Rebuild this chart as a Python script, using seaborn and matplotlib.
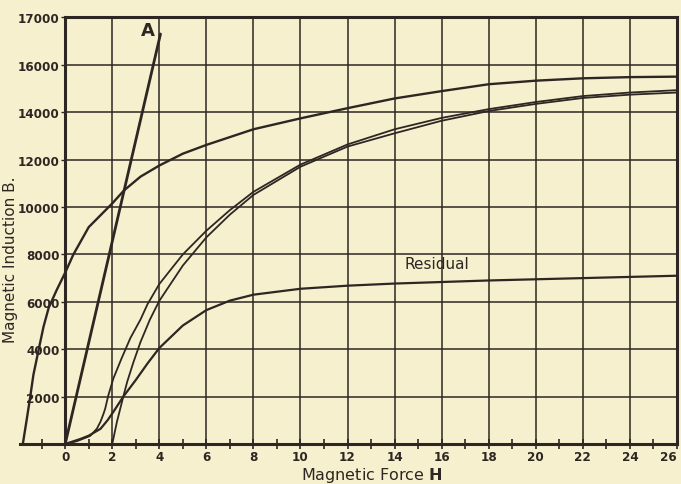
import matplotlib.pyplot as plt
import seaborn as sns

# ruled paper
h_ticks = list(range(0, 27, 2))
h_minor = list(range(-1, 26, 2))
b_ticks = list(range(0, 18001, 2000))
b_labels = ["", "2000", "4000", "6000", "8000", "10000", "12000", "14000", "16000", "17000"]

# line A
a_h = [0, 4.05]
a_b = [0, 17300]

# upper curve (starts at negative H)
up_h = [-1.8, -1.63, -1.49, -1.35, -1.14, -0.92, -0.7, -0.35, 0, 0.35, 1.0, 1.5, 2.0, 2.5,
        3.2, 4.0, 5.0, 6.0, 7.0, 8.0, 10.0, 12.0, 14.0, 16.0, 18.0, 20.0, 22.0, 24.0, 26.0]
up_b = [0, 1060, 1960, 2920, 3920, 4950, 5750, 6520, 7230, 8000, 9150, 9650, 10150, 10700,
        11280, 11750, 12250, 12620, 12950, 13280, 13740, 14170, 14580, 14890, 15180, 15330, 15430, 15480, 15500]

# double line, left branch
l_h = [0, 0.5, 1.06, 1.35, 1.5, 1.62, 1.7, 1.83, 2.05, 2.4, 2.77, 3.2, 3.5, 4.0, 5.0, 6.0,
       7.0, 8.0, 10.0, 12.0, 14.0, 16.0, 18.0, 20.0, 22.0, 24.0, 26.0]
l_b = [0, 120, 340, 650, 940, 1250, 1490, 2040, 2770, 3620, 4470, 5250, 5900, 6750, 8000, 9000,
       9870, 10640, 11790, 12640, 13280, 13760, 14130, 14430, 14680, 14830, 14930]

# double line, right branch
r_h = [2.0, 2.2, 2.47, 2.64, 2.9, 3.2, 3.6, 4.0, 5.0, 6.0, 7.0, 8.0, 10.0, 12.0, 14.0, 16.0,
       18.0, 20.0, 22.0, 24.0, 26.0]
r_b = [0, 940, 2000, 2640, 3450, 4300, 5250, 6040, 7530, 8720, 9680, 10510, 11700, 12550, 13110,
       13640, 14050, 14350, 14600, 14740, 14830]

# residual
res_h = [0, 0.64, 1.0, 1.5, 1.8, 2.05, 2.47, 3.0, 3.5, 4.0, 5.0, 6.0, 7.0, 8.0, 10.0, 12.0,
         14.0, 18.0, 22.0, 26.0]
res_b = [0, 210, 350, 640, 1000, 1360, 2000, 2700, 3400, 4050, 5000, 5650, 6050, 6300, 6550, 6680,
         6770, 6900, 7000, 7100]

paper = "#f6f0cf"
ink = "#2e2622"

sns.set_theme(style="white", rc={"axes.facecolor": paper, "figure.facecolor": paper})
plt.rcParams["font.family"] = ["DejaVu Sans"]

fig = plt.figure(figsize=(6.81, 4.85), dpi=100)
ax = fig.add_axes([20 / 681, 40 / 485, 657 / 681, 426.6 / 485])

# grid only inside the ruled frame
ax.vlines(h_ticks[1:-1], b_ticks[0], b_ticks[-1], color=ink, lw=1.1, zorder=1)
ax.hlines(b_ticks[1:-1], h_ticks[0], h_ticks[-1], color=ink, lw=1.1, zorder=1)

kw = dict(ax=ax, color=ink, sort=False, estimator=None, zorder=3)
sns.lineplot(x=a_h, y=a_b, lw=2.0, **kw)
sns.lineplot(x=up_h, y=up_b, lw=1.7, **kw)
sns.lineplot(x=l_h, y=l_b, lw=1.3, **kw)
sns.lineplot(x=r_h, y=r_b, lw=1.3, **kw)
sns.lineplot(x=res_h, y=res_b, lw=1.6, **kw)

ax.text(3.5, 17450, "A", fontsize=13, fontweight="bold", color=ink, ha="center", va="center")
ax.text(14.4, 7600, "Residual", fontsize=11, color=ink, ha="left", va="center")

ax.set_xlim(-1.92, 26)
ax.set_ylim(0, 18000)

for s in ax.spines.values():
    s.set_color(ink)
    s.set_linewidth(2.2)
ax.spines["left"].set_position(("data", 0))
ax.spines["top"].set_bounds(0, 26)

ax.set_xticks(h_ticks)
ax.set_xticks(h_minor, minor=True)
ax.set_yticks(b_ticks)
ax.set_yticklabels(b_labels)
ax.tick_params(axis="x", which="both", direction="inout", length=7, width=1.2, color=ink,
               labelsize=9.5, labelcolor=ink, pad=1, bottom=True)
ax.tick_params(axis="y", which="both", direction="out", length=3, width=1.0, color=ink,
               labelsize=9.5, labelcolor=ink, pad=1, left=True)
for t in ax.get_xticklabels() + ax.get_yticklabels():
    t.set_fontweight("bold")
    t.set_fontstretch("condensed")
ax.get_xticklabels()[-1].set_horizontalalignment("right")

ax.set_xlabel("Magnetic Force $\\mathbf{H}$", fontsize=11.5, color=ink, va="center")
ax.xaxis.set_label_coords(0.536, -0.071)
ax.set_ylabel("Magnetic Induction B.", fontsize=11, color=ink, va="center")
ax.yaxis.set_label_coords(-0.014, 0.434)

fig.savefig("out.png", dpi=100, facecolor=paper)
